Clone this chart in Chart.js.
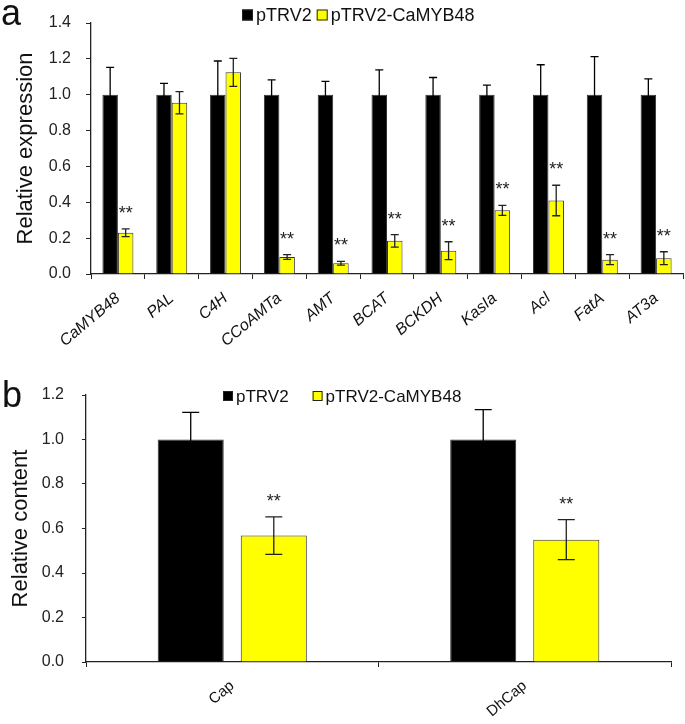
<!DOCTYPE html>
<html>
<head>
<meta charset="utf-8">
<script src="https://cdn.jsdelivr.net/npm/chart.js@4.4.0/dist/chart.umd.min.js"></script>
<style>
    body { margin: 0; background: #fff; }
    #wrapA { position: absolute; left: 0; top: 0; width: 685px; height: 365px; }
    #wrapB { position: absolute; left: 0; top: 365px; width: 685px; height: 359px; }
</style>
</head>
<body>
<div id="wrapA"><canvas id="chartA" width="685" height="365"></canvas></div>
<div id="wrapB"><canvas id="chartB" width="685" height="359"></canvas></div>
<script>
        // DATA - panel a
        let geneLabels = ['CaMYB48', 'PAL', 'C4H', 'CCoAMTa', 'AMT', 'BCAT', 'BCKDH', 'KasIa', 'Acl', 'FatA', 'AT3a'];
        let exprControl = [1.0, 1.0, 1.0, 1.0, 1.0, 1.0, 1.0, 1.0, 1.0, 1.0, 1.0];
        let exprControlErr = [0.153, 0.063, 0.188, 0.083, 0.074, 0.139, 0.096, 0.054, 0.167, 0.212, 0.088];
        let exprSilenced = [0.23, 0.955, 1.125, 0.095, 0.06, 0.185, 0.13, 0.355, 0.41, 0.08, 0.088];
        let exprSilencedErr = [0.022, 0.062, 0.078, 0.013, 0.01, 0.035, 0.05, 0.028, 0.085, 0.028, 0.036];
        let exprMarks = ['**', '', '', '**', '**', '**', '**', '**', '**', '**', '**'];
        let exprTicks = [0, 0.2, 0.4, 0.6, 0.8, 1.0, 1.2, 1.4];

        // DATA - panel b
        let capLabels = ['Cap', 'DhCap'];
        let contentControl = [1.0, 1.0];
        let contentControlErr = [0.122, 0.134];
        let contentSilenced = [0.568, 0.55];
        let contentSilencedErr = [0.084, 0.09];
        let contentMarks = ['**', '**'];
        let contentTicks = [0, 0.2, 0.4, 0.6, 0.8, 1.0, 1.2];

        let seriesNames = ['pTRV2', 'pTRV2-CaMYB48'];
        let seriesColors = ['#000000', '#FFFF00'];
        let errColors = ['#000000', '#222222'];

        let fontFam = "'Liberation Sans', Arial, sans-serif";
        Chart.defaults.font.family = fontFam;

        // error bars + significance stars
        let errorBarPlugin = {
            id: 'errorBars',
            afterDatasetsDraw(chart, args, opts) {
                let ctx = chart.ctx;
                let yScale = chart.scales.y;
                ctx.save();
                chart.data.datasets.forEach((ds, di) => {
                    let meta = chart.getDatasetMeta(di);
                    meta.data.forEach((bar, i) => {
                        let v = ds.data[i], e = ds.errors[i];
                        let top = yScale.getPixelForValue(v + e);
                        let bot = yScale.getPixelForValue(v - e);
                        let hw = opts.capWidth / 2;
                        ctx.strokeStyle = errColors[di];
                        ctx.lineWidth = 1.3;
                        ctx.beginPath();
                        ctx.moveTo(bar.x, top); ctx.lineTo(bar.x, bot);
                        ctx.moveTo(bar.x - hw, top); ctx.lineTo(bar.x + hw, top);
                        ctx.moveTo(bar.x - hw, bot); ctx.lineTo(bar.x + hw, bot);
                        ctx.stroke();
                        if (ds.marks && ds.marks[i]) {
                            ctx.fillStyle = '#222';
                            ctx.font = opts.markSize + 'px ' + fontFam;
                            ctx.textAlign = 'center';
                            ctx.textBaseline = 'alphabetic';
                            ctx.fillText(ds.marks[i], bar.x, top - opts.markGap);
                        }
                    });
                });
                ctx.restore();
            }
        };

        // square legend + panel letter
        let boxLegendPlugin = {
            id: 'boxLegend',
            afterDraw(chart, args, opts) {
                let ctx = chart.ctx;
                ctx.save();
                ctx.font = opts.fontSize + 'px ' + fontFam;
                ctx.textBaseline = 'middle';
                ctx.textAlign = 'left';
                let x = opts.x, s = opts.box;
                chart.data.datasets.forEach(ds => {
                    ctx.fillStyle = ds.backgroundColor;
                    ctx.fillRect(x, opts.y - s / 2, s, s);
                    ctx.strokeStyle = '#222';
                    ctx.lineWidth = 1;
                    ctx.strokeRect(x + 0.5, opts.y - s / 2 + 0.5, s - 1, s - 1);
                    x += s + 3;
                    ctx.fillStyle = '#111';
                    ctx.fillText(ds.label, x, opts.y + 1);
                    x += ctx.measureText(ds.label).width + opts.gap;
                });
                ctx.font = '36px ' + fontFam;
                ctx.textBaseline = 'alphabetic';
                ctx.fillStyle = '#111';
                ctx.fillText(opts.letter, opts.letterX, opts.letterY);
                ctx.restore();
            }
        };

        function makeDatasets(a, aErr, b, bErr, marks) {
            return [{
                label: seriesNames[0],
                data: a,
                errors: aErr,
                backgroundColor: seriesColors[0],
                borderColor: '#333',
                borderWidth: 1
            }, {
                label: seriesNames[1],
                data: b,
                errors: bErr,
                marks: marks,
                backgroundColor: seriesColors[1],
                borderColor: '#333',
                borderWidth: 1
            }];
        }

        function makeOptions(cfg) {
            return {
                responsive: false,
                animation: false,
                layout: { padding: { top: cfg.top, right: cfg.right, left: 0, bottom: 0 } },
                plugins: {
                    legend: { display: false },
                    tooltip: { enabled: false },
                    errorBars: { capWidth: cfg.cap, markSize: 18, markGap: 10 },
                    boxLegend: cfg.legend
                },
                scales: {
                    x: {
                        grid: { offset: true, drawOnChartArea: false, drawTicks: true, tickLength: 5, color: '#222' },
                        border: { color: '#222', width: 1.3 },
                        ticks: {
                            color: '#111', minRotation: 40, maxRotation: 40, padding: cfg.xPad,
                            font: { size: cfg.xFont, style: cfg.xStyle }
                        },
                        afterFit: s => { s.height = cfg.xHeight; }
                    },
                    y: {
                        min: 0, max: cfg.max,
                        afterBuildTicks: s => { s.ticks = cfg.ticks.map(v => ({ value: v })); },
                        grid: { drawOnChartArea: false, drawTicks: true, tickLength: cfg.yTick, color: '#222' },
                        border: { color: '#222', width: 1.3 },
                        ticks: {
                            color: '#222', padding: cfg.yPad,
                            font: { size: 16, lineHeight: 1 },
                            callback: v => Number(v).toFixed(1)
                        },
                        title: {
                            display: true, text: cfg.title, color: '#111',
                            font: { size: 22 }, padding: { top: cfg.titlePad, bottom: 0 }
                        },
                        afterFit: s => { s.width = cfg.yWidth; }
                    }
                }
            };
        }

        let chartA = new Chart(document.getElementById('chartA').getContext('2d'), {
            type: 'bar',
            data: {
                labels: geneLabels,
                datasets: makeDatasets(exprControl, exprControlErr, exprSilenced, exprSilencedErr, exprMarks).map(d => Object.assign(d, { categoryPercentage: 0.576, barPercentage: 1.0 }))
            },
            options: makeOptions({
                top: 8, right: 2, cap: 8, max: 1.4, ticks: exprTicks,
                xPad: 10, xFont: 16, xStyle: 'italic', xHeight: 91,
                yTick: 5, yPad: 15, yWidth: 91, title: 'Relative expression', titlePad: 13,
                legend: { x: 242, y: 15, box: 11, gap: 5, fontSize: 18, letter: 'a', letterX: 1, letterY: 25 }
            }),
            plugins: [errorBarPlugin, boxLegendPlugin]
        });

        let chartB = new Chart(document.getElementById('chartB').getContext('2d'), {
            type: 'bar',
            data: {
                labels: capLabels,
                datasets: makeDatasets(contentControl, contentControlErr, contentSilenced, contentSilencedErr, contentMarks).map(d => Object.assign(d, { categoryPercentage: 0.568, barPercentage: 0.795 }))
            },
            options: makeOptions({
                top: 30, right: 14, cap: 17, max: 1.2, ticks: contentTicks,
                xPad: 10, xFont: 15, xStyle: 'normal', xHeight: 62,
                yTick: 4, yPad: 18, yWidth: 86, title: 'Relative content', titlePad: 8,
                legend: { x: 223, y: 31, box: 10, gap: 24, fontSize: 17, letter: 'b', letterX: 2, letterY: 42 }
            }),
            plugins: [errorBarPlugin, boxLegendPlugin]
        });
</script>
</body>
</html>
